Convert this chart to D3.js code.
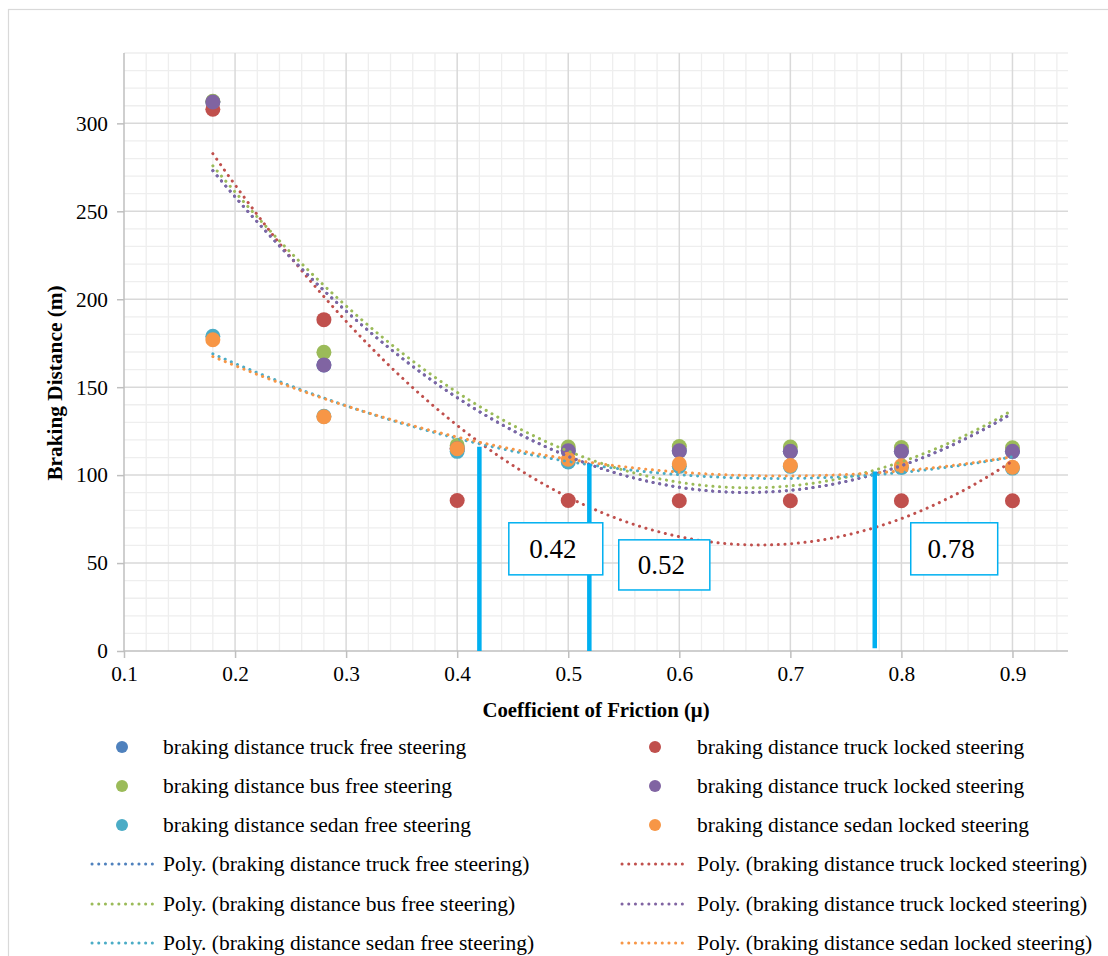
<!DOCTYPE html>
<html>
<head>
<meta charset="utf-8">
<script src="https://cdn.jsdelivr.net/npm/d3@7"></script>
<style>
  html, body { margin: 0; padding: 0; background: #fff; }
  svg { display: block; }
  svg text { font-family: 'Liberation Serif', 'Times New Roman', Tinos, 'DejaVu Serif', serif !important; fill: #000; }
</style>
</head>
<body>
<div id="chart"></div>
<script>
// ---------------- data ----------------
const frictionValues = [0.18, 0.28, 0.4, 0.5, 0.6, 0.7, 0.8, 0.9];

const truckFree    = [312.1, 162.6, 115.0, 113.8, 113.8, 113.5, 113.5, 113.5];
const truckLocked  = [308.0, 188.4, 85.6, 85.6, 85.4, 85.4, 85.4, 85.4];
const busFree      = [312.5, 169.8, 116.9, 116.0, 116.3, 116.0, 115.7, 115.5];
const truckLocked2 = [312.1, 162.6, 115.0, 113.8, 113.8, 113.5, 113.5, 113.5];
const sedanFree    = [178.9, 133.4, 113.5, 107.5, 105.0, 105.0, 104.4, 104.0];
const sedanLocked  = [177.0, 133.2, 115.0, 109.0, 106.3, 105.5, 105.3, 104.5];

const seriesNames = [
  "braking distance truck free steering",
  "braking distance truck locked steering",
  "braking distance bus free steering",
  "braking distance truck locked steering",
  "braking distance sedan free steering",
  "braking distance sedan locked steering"
];
const seriesValues = [truckFree, truckLocked, busFree, truckLocked2, sedanFree, sedanLocked];
const seriesColors = ["#4F81BD", "#C0504D", "#9BBB59", "#8064A2", "#4BACC6", "#F79646"];

const xTicks = [0.1, 0.2, 0.3, 0.4, 0.5, 0.6, 0.7, 0.8, 0.9];
const yTicks = [0, 50, 100, 150, 200, 250, 300];

// annotations (data units)
const annotX      = [0.42, 0.519, 0.776];
const annotTop    = [116.1, 106.4, 102.0];
const annotBottom = [0, 0, 1.5];
const annotLabels = ["0.42", "0.52", "0.78"];
const annotBoxX0  = [0.4465, 0.5455, 0.8084];
const annotBoxX1  = [0.5311, 0.6275, 0.8867];
const annotBoxY0  = [72.9, 63.2, 72.9];
const annotBoxY1  = [43.3, 34.7, 43.3];

// ---------------- layout ----------------
const FONT = "'Liberation Serif', 'Times New Roman', Tinos, 'DejaVu Serif', serif";
const W = 1108, H = 956;
const plot = { left: 124, right: 1068, top: 53, bottom: 651 };

const svg = d3.select("#chart").append("svg").attr("width", W).attr("height", H)
  .style("font-family", FONT);

// outer chart border
svg.append("rect").attr("x", 8.5).attr("y", 9.5).attr("width", 1300).attr("height", 1200)
  .attr("fill", "#fff").attr("stroke", "#D9D9D9").attr("stroke-width", 1.2);

const x = d3.scaleLinear().domain([0.1, 0.95]).range([plot.left, plot.right]);
const y = d3.scaleLinear().domain([0, 340]).range([plot.bottom, plot.top]);

const g = svg.append("g");

// minor gridlines
const xMinor = d3.range(0.1, 0.9501, 0.02).filter(v => Math.abs(Math.round(v * 10) - v * 10) > 1e-6);
const yMinor = d3.range(0, 340.01, 10).filter(v => v % 50 !== 0);
g.selectAll(".xminor").data(xMinor).join("line")
  .attr("x1", d => x(d)).attr("x2", d => x(d)).attr("y1", plot.top).attr("y2", plot.bottom)
  .attr("stroke", "#EEEEEE").attr("stroke-width", 1.3);
g.selectAll(".yminor").data(yMinor).join("line")
  .attr("x1", plot.left).attr("x2", plot.right).attr("y1", d => y(d)).attr("y2", d => y(d))
  .attr("stroke", "#EEEEEE").attr("stroke-width", 1.3);

// major gridlines
g.selectAll(".xmajor").data(xTicks.slice(1)).join("line")
  .attr("x1", d => x(d)).attr("x2", d => x(d)).attr("y1", plot.top).attr("y2", plot.bottom)
  .attr("stroke", "#D9D9D9").attr("stroke-width", 1.5);
g.selectAll(".ymajor").data(yTicks.slice(1)).join("line")
  .attr("x1", plot.left).attr("x2", plot.right).attr("y1", d => y(d)).attr("y2", d => y(d))
  .attr("stroke", "#D9D9D9").attr("stroke-width", 1.5);

// axes
const xAxis = d3.axisBottom(x).tickValues(xTicks).tickSize(7).tickPadding(8).tickFormat(d3.format(".1f"));
const yAxis = d3.axisLeft(y).tickValues(yTicks).tickSize(7).tickPadding(9).tickFormat(d3.format("d"));

const gx = svg.append("g").attr("transform", `translate(0,${plot.bottom})`).call(xAxis);
const gy = svg.append("g").attr("transform", `translate(${plot.left},0)`).call(yAxis);
[gx, gy].forEach(a => {
  a.attr("font-family", null).attr("font-size", null);
  a.select(".domain").attr("stroke", "#BFBFBF").attr("stroke-width", 1.5);
  a.selectAll(".tick line").attr("stroke", "#BFBFBF").attr("stroke-width", 1.5);
  a.selectAll(".tick text").attr("font-family", FONT).style("font-family", FONT)
    .attr("font-size", 21.3).attr("fill", "#000");
});
gx.select(".domain").attr("d", `M${plot.left},0H${plot.right}`);
gy.select(".domain").attr("d", `M0,${plot.top}V${plot.bottom}`);

// axis titles
svg.append("text").attr("x", 596).attr("y", 717).attr("text-anchor", "middle")
  .style("font-family", FONT)
  .attr("font-size", 20.8).attr("font-weight", "bold").text("Coefficient of Friction (μ)");
svg.append("text").attr("transform", "translate(62,383) rotate(-90)").attr("text-anchor", "middle")
  .style("font-family", FONT)
  .attr("font-size", 21.3).attr("font-weight", "bold").text("Braking Distance (m)");

// ---------------- polynomial trendlines (order 2, least squares) ----------------
function polyFit2(xs, ys) {
  let S = [[0,0,0],[0,0,0],[0,0,0]], T = [0,0,0];
  xs.forEach((xv, i) => {
    const p = [1, xv, xv * xv];
    for (let r = 0; r < 3; r++) {
      T[r] += p[r] * ys[i];
      for (let c = 0; c < 3; c++) S[r][c] += p[r] * p[c];
    }
  });
  const A = S.map((row, i) => row.concat([T[i]]));
  for (let i = 0; i < 3; i++) {
    let m = i;
    for (let k = i + 1; k < 3; k++) if (Math.abs(A[k][i]) > Math.abs(A[m][i])) m = k;
    [A[i], A[m]] = [A[m], A[i]];
    for (let k = i + 1; k < 3; k++) {
      const f = A[k][i] / A[i][i];
      for (let c = i; c < 4; c++) A[k][c] -= f * A[i][c];
    }
  }
  const b = [0,0,0];
  for (let i = 2; i >= 0; i--) {
    let s = A[i][3];
    for (let c = i + 1; c < 3; c++) s -= A[i][c] * b[c];
    b[i] = s / A[i][i];
  }
  return b;
}

const line = d3.line().x(d => x(d[0])).y(d => y(d[1])).curve(d3.curveLinear);
const xMin = d3.min(frictionValues), xMax = d3.max(frictionValues);

// markers first
seriesValues.forEach((vals, si) => {
  svg.append("g").selectAll("circle").data(vals.map((v, i) => [frictionValues[i], v])).join("circle")
    .attr("cx", d => x(d[0])).attr("cy", d => y(d[1])).attr("r", 7.5)
    .attr("fill", seriesColors[si]);
});

// trendlines on top
seriesValues.forEach((vals, si) => {
  const b = polyFit2(frictionValues, vals);
  const n = 200;
  const pts = d3.range(n + 1).map(k => {
    const xv = xMin + (xMax - xMin) * k / n;
    return [xv, b[0] + b[1] * xv + b[2] * xv * xv];
  });
  svg.append("path").attr("d", line(pts)).attr("fill", "none")
    .attr("stroke", seriesColors[si]).attr("stroke-width", 3)
    .attr("stroke-linecap", "round").attr("stroke-dasharray", "0.1 6.6");
});

// ---------------- annotations ----------------
annotX.forEach((xv, i) => {
  svg.append("line").attr("x1", x(xv)).attr("x2", x(xv))
    .attr("y1", y(annotTop[i])).attr("y2", y(annotBottom[i]))
    .attr("stroke", "#00B0F0").attr("stroke-width", 4.5);
});
annotLabels.forEach((lab, i) => {
  const x0 = x(annotBoxX0[i]), x1 = x(annotBoxX1[i]);
  const y0 = y(annotBoxY0[i]), y1 = y(annotBoxY1[i]);
  svg.append("rect").attr("x", x0).attr("y", y0).attr("width", x1 - x0).attr("height", y1 - y0)
    .attr("fill", "#fff").attr("stroke", "#00B0F0").attr("stroke-width", 1.5);
  svg.append("text").attr("x", (x0 + x1) / 2 - 3).attr("y", (y0 + y1) / 2 + 9)
    .style("font-family", FONT)
    .attr("text-anchor", "middle").attr("font-size", 27).text(lab);
});

// ---------------- legend ----------------
const legendOrderLeft = [0, 2, 4];
const legendOrderRight = [1, 3, 5];
const rowY = [747, 786, 825, 864, 904, 943];
const cols = [
  { marker: 122, lineX0: 92, lineX1: 153, text: 163, idx: legendOrderLeft },
  { marker: 655, lineX0: 622, lineX1: 686, text: 697, idx: legendOrderRight }
];
const lg = svg.append("g");
cols.forEach(col => {
  col.idx.forEach((si, r) => {
    lg.append("circle").attr("cx", col.marker).attr("cy", rowY[r]).attr("r", 6)
      .attr("fill", seriesColors[si]);
    lg.append("text").attr("x", col.text).attr("y", rowY[r] + 7).attr("font-size", 21.5)
      .style("font-family", FONT)
      .text(seriesNames[si]);
    lg.append("line").attr("x1", col.lineX0).attr("x2", col.lineX1)
      .attr("y1", rowY[r + 3]).attr("y2", rowY[r + 3])
      .attr("stroke", seriesColors[si]).attr("stroke-width", 3)
      .attr("stroke-linecap", "round").attr("stroke-dasharray", "0.1 6.6");
    lg.append("text").attr("x", col.text).attr("y", rowY[r + 3] + 7).attr("font-size", 21.5)
      .style("font-family", FONT)
      .text("Poly. (" + seriesNames[si] + ")");
  });
});
</script>
</body>
</html>
